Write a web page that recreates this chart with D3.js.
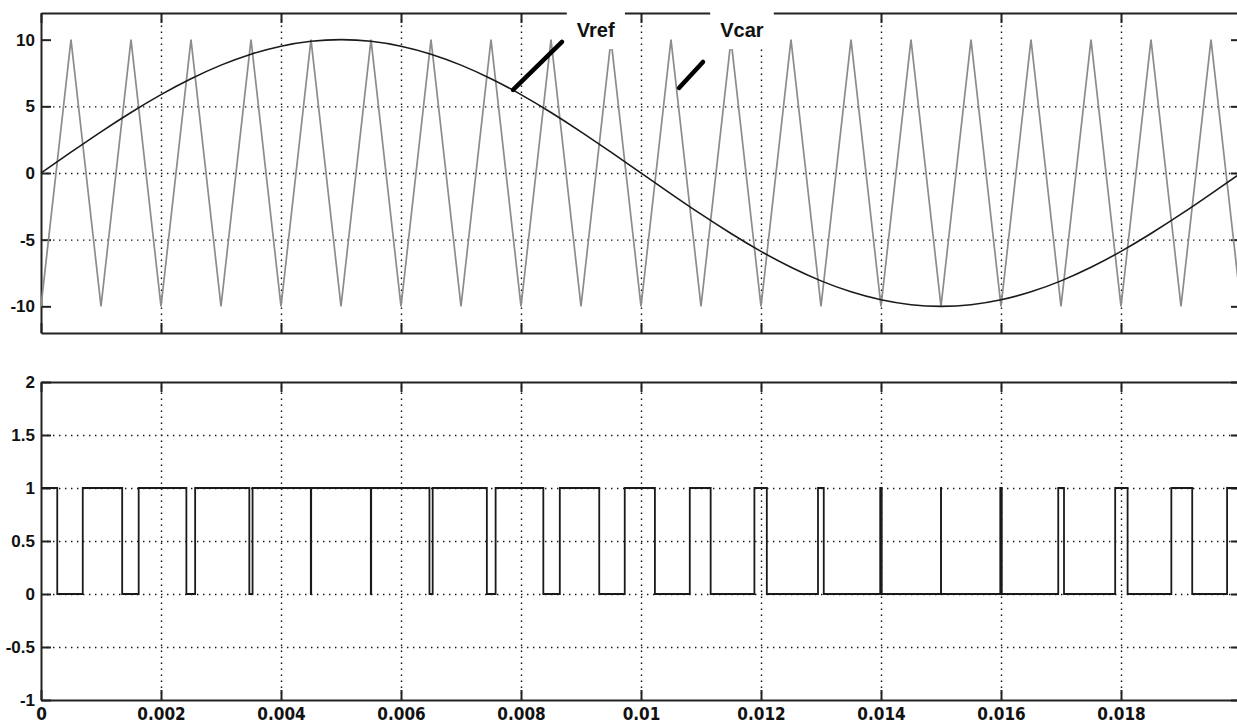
<!DOCTYPE html>
<html>
<head>
<meta charset="utf-8">
<script src="https://cdn.jsdelivr.net/npm/d3@7"></script>
<style>
  body { margin: 0; background: white; }
  svg { display: block; }
</style>
</head>
<body>
<script>
// sine reference (Vref), sampled every 0.5 ms
const refTime = [0, 0.0005, 0.001, 0.0015, 0.002, 0.0025, 0.003, 0.0035, 0.004, 0.0045,
  0.005, 0.0055, 0.006, 0.0065, 0.007, 0.0075, 0.008, 0.0085, 0.009, 0.0095,
  0.01, 0.0105, 0.011, 0.0115, 0.012, 0.0125, 0.013, 0.0135, 0.014, 0.0145,
  0.015, 0.0155, 0.016, 0.0165, 0.017, 0.0175, 0.018, 0.0185, 0.019, 0.0195, 0.02];
const refValue = [0, 1.56, 3.09, 4.54, 5.88, 7.07, 8.09, 8.91, 9.51, 9.88,
  10, 9.88, 9.51, 8.91, 8.09, 7.07, 5.88, 4.54, 3.09, 1.56,
  0, -1.56, -3.09, -4.54, -5.88, -7.07, -8.09, -8.91, -9.51, -9.88,
  -10, -9.88, -9.51, -8.91, -8.09, -7.07, -5.88, -4.54, -3.09, -1.56, 0];

// triangular carrier (Vcar) corners
const carTime = [0, 0.0005, 0.001, 0.0015, 0.002, 0.0025, 0.003, 0.0035, 0.004, 0.0045,
  0.005, 0.0055, 0.006, 0.0065, 0.007, 0.0075, 0.008, 0.0085, 0.009, 0.0095,
  0.01, 0.0105, 0.011, 0.0115, 0.012, 0.0125, 0.013, 0.0135, 0.014, 0.0145,
  0.015, 0.0155, 0.016, 0.0165, 0.017, 0.0175, 0.018, 0.0185, 0.019, 0.0195, 0.02];
const carValue = [-10, 10, -10, 10, -10, 10, -10, 10, -10, 10,
  -10, 10, -10, 10, -10, 10, -10, 10, -10, 10,
  -10, 10, -10, 10, -10, 10, -10, 10, -10, 10,
  -10, 10, -10, 10, -10, 10, -10, 10, -10, 10, -10];

// gate signal: switching instants and level after each switch
const pwmTime = [0, 0.000271, 0.000696, 0.001353, 0.001628, 0.002423, 0.002569, 0.003472, 0.003526,
  0.004497, 0.004503, 0.005497, 0.005503, 0.006474, 0.006528, 0.007431, 0.007577,
  0.008372, 0.008647, 0.009304, 0.009729, 0.010232, 0.010813, 0.011161, 0.01189,
  0.012097, 0.01295, 0.013046, 0.013987, 0.014012, 0.014999, 0.015001, 0.015988,
  0.016013, 0.016954, 0.01705, 0.017903, 0.01811, 0.018839, 0.019187, 0.019768, 0.02];
const pwmValue = [1, 0, 1, 0, 1, 0, 1, 0, 1,
  0, 1, 0, 1, 0, 1, 0, 1,
  0, 1, 0, 1, 0, 1, 0, 1,
  0, 1, 0, 1, 0, 1, 0, 1,
  0, 1, 0, 1, 0, 1, 0, 1, 1];

const xTicks = [0, 0.002, 0.004, 0.006, 0.008, 0.01, 0.012, 0.014, 0.016, 0.018];
const xTickLabels = ["0", "0.002", "0.004", "0.006", "0.008", "0.01", "0.012", "0.014", "0.016", "0.018"];
const topTicks = [-10, -5, 0, 5, 10];
const topTickLabels = ["-10", "-5", "0", "5", "10"];
const botTicks = [-1, -0.5, 0, 0.5, 1, 1.5, 2];
const botTickLabels = ["-1", "-0.5", "0", "0.5", "1", "1.5", "2"];

const labels = [
  {text: "Vref", t: 0.00893, v: 10.2, from: [0.008683, 9.83], to: [0.007867, 6.23]},
  {text: "Vcar", t: 0.01132, v: 10.2, from: [0.011033, 8.33], to: [0.010633, 6.38]}
];

const width = 1237;
const height = 727;

const svg = d3.select('body')
  .append('svg')
  .attr('width', width)
  .attr('height', height)
  .style('background-color', 'white');

const x = d3.scaleLinear().domain([0, 0.02]).range([41, 1241]);
const yTop = d3.scaleLinear().domain([-12, 12]).range([333, 13]);
const yBot = d3.scaleLinear().domain([-1, 2]).range([700, 382]);

const gridStyle = g => {
  g.select('.domain').remove();
  g.selectAll('.tick line')
    .attr('stroke', '#111')
    .attr('stroke-width', 1.4)
    .attr('stroke-dasharray', '1.4,4.6');
};

function panel(y, yTickVals, yTickText, showX) {
  const x0 = x.range()[0], x1 = x.range()[1];
  const y0 = y.range()[0], y1 = y.range()[1];

  svg.append('g')
    .attr('transform', `translate(0,${y0})`)
    .call(d3.axisBottom(x).tickValues(xTicks.slice(1)).tickSize(-(y0 - y1)).tickFormat(''))
    .call(gridStyle);
  svg.append('g')
    .attr('transform', `translate(${x0},0)`)
    .call(d3.axisLeft(y).tickValues(yTickVals.slice(1, -1)).tickSize(-(x1 - x0)).tickFormat(''))
    .call(gridStyle);

  const frame = (g, lbl) => {
    g.select('.domain').attr('stroke', '#222').attr('stroke-width', 2);
    g.selectAll('.tick line').attr('stroke', '#222').attr('stroke-width', 2);
    g.selectAll('.tick text')
      .attr('fill', '#111')
      .style('font-family', lbl)
      .style('font-weight', 'bold');
  };

  svg.append('g')
    .attr('transform', `translate(${x0},0)`)
    .call(d3.axisLeft(y).tickValues(yTickVals).tickSizeInner(-10).tickSizeOuter(0).tickPadding(6)
      .tickFormat((d, i) => yTickText[i]))
    .call(g => frame(g, '"Liberation Sans", Arial, sans-serif'))
    .call(g => g.selectAll('.tick text').style('font-size', '17px'));
  svg.append('g')
    .attr('transform', `translate(${x1},0)`)
    .call(d3.axisRight(y).tickValues(yTickVals).tickSizeInner(-10).tickSizeOuter(0).tickFormat(''))
    .call(g => frame(g, 'sans-serif'));
  svg.append('g')
    .attr('transform', `translate(0,${y1})`)
    .call(d3.axisTop(x).tickValues(xTicks).tickSizeInner(-10).tickSizeOuter(0).tickFormat(''))
    .call(g => frame(g, 'sans-serif'));
  svg.append('g')
    .attr('transform', `translate(0,${y0})`)
    .call(d3.axisBottom(x).tickValues(xTicks).tickSizeInner(-10).tickSizeOuter(0).tickPadding(8)
      .tickFormat((d, i) => showX ? xTickLabels[i] : ''))
    .call(g => frame(g, '"DejaVu Sans Condensed", "DejaVu Sans", sans-serif'))
    .call(g => g.selectAll('.tick text').style('font-size', '17px'));
}

panel(yTop, topTicks, topTickLabels, false);
panel(yBot, botTicks, botTickLabels, true);

// top panel curves
const carLine = d3.line()
  .x(i => x(carTime[i]))
  .y(i => yTop(carValue[i]));
svg.append('path')
  .attr('d', carLine(d3.range(carTime.length)))
  .attr('fill', 'none')
  .attr('stroke', '#8c8c8c')
  .attr('stroke-width', 1.7);

const refLine = d3.line()
  .x(i => x(refTime[i]))
  .y(i => yTop(refValue[i]))
  .curve(d3.curveNatural);
svg.append('path')
  .attr('d', refLine(d3.range(refTime.length)))
  .attr('fill', 'none')
  .attr('stroke', '#1a1a1a')
  .attr('stroke-width', 1.6);

// bottom panel gate pulses
const pwmLine = d3.line()
  .x(i => x(pwmTime[i]))
  .y(i => yBot(pwmValue[i]))
  .curve(d3.curveStepAfter);
svg.append('path')
  .attr('d', pwmLine(d3.range(pwmTime.length)))
  .attr('fill', 'none')
  .attr('stroke', '#1a1a1a')
  .attr('stroke-width', 1.8);

// labels with white boxes cutting the frame, plus pointer strokes
labels.forEach(l => {
  const txt = svg.append('text')
    .text(l.text)
    .attr('x', x(l.t))
    .attr('y', yTop(l.v))
    .style('font-family', '"Liberation Sans", Arial, sans-serif')
    .style('font-weight', 'bold')
    .style('font-size', '20px')
    .attr('fill', '#111');
  const b = txt.node().getBBox();
  svg.insert('rect', () => txt.node())
    .attr('x', b.x - 10)
    .attr('y', b.y - 8)
    .attr('width', b.width + 20)
    .attr('height', b.height + 16)
    .attr('fill', 'white');
  svg.append('line')
    .attr('x1', x(l.from[0]))
    .attr('y1', yTop(l.from[1]))
    .attr('x2', x(l.to[0]))
    .attr('y2', yTop(l.to[1]))
    .attr('stroke', '#000')
    .attr('stroke-width', 4.5)
    .attr('stroke-linecap', 'round');
});
</script>
</body>
</html>
